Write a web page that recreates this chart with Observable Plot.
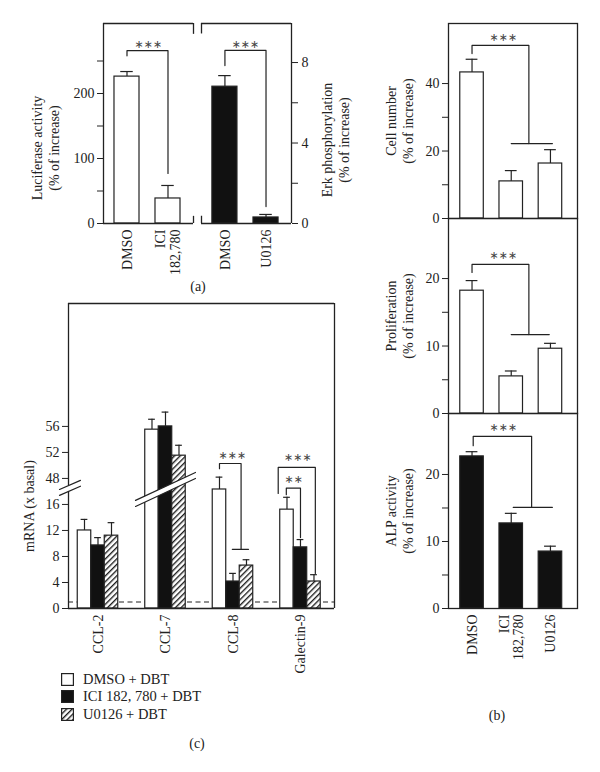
<!DOCTYPE html>
<html><head><meta charset="utf-8">
<script src="https://cdn.jsdelivr.net/npm/d3@7"></script>
<script src="https://cdn.jsdelivr.net/npm/@observablehq/plot@0.6"></script>
<style>
body{margin:0;background:#fff;}
#fig{position:relative;width:600px;height:772px;overflow:hidden;font-family:"Liberation Serif",serif;color:#222;background:#fff;}
.lbl{position:absolute;transform:translate(-50%,-50%) rotate(-90deg);white-space:pre;text-align:center;font-size:14px;line-height:17px;}
.cap{position:absolute;transform:translate(-50%,-50%);font-size:14px;}
.leg{position:absolute;left:61px;font-size:14.5px;display:flex;align-items:center;height:17px;}
.leg svg{margin-right:9px;}
</style></head><body><div id="fig"></div>
<script>
// ---------------- data ----------------
// panel (a)
const aLeftCats = ["DMSO", "ICI 182,780"];
const aLeftVals = [226, 38.5];
const aLeftErr = [7.8, 20];
const aLeftTicks = [0, 50, 100, 150, 200, 250];
const aRightCats = ["DMSO", "U0126"];
const aRightVals = [6.8, 0.3];
const aRightErr = [0.55, 0.15];
const aRightTicks = [0, 2, 4, 6, 8];
// panel (b)
const bCats = ["DMSO", "ICI 182,780", "U0126"];
const cellNumber = [43.3, 11.0, 16.3];
const cellNumberErr = [3.9, 3.2, 4.1];
const prolif = [18.2, 5.5, 9.6];
const prolifErr = [1.5, 0.8, 0.8];
const alp = [22.7, 12.7, 8.5];
const alpErr = [0.7, 1.5, 0.8];
// panel (c)
const genes = ["CCL-2", "CCL-7", "CCL-8", "Galectin-9"];
const treatments = ["DMSO + DBT", "ICI 182, 780 + DBT", "U0126 + DBT"];
const dmsoDBT = [12.0, 55.5, 18.3, 15.2];
const dmsoDBTErr = [1.7, 1.6, 1.9, 1.9];
const iciDBT = [9.7, 56.0, 4.15, 9.4];
const iciDBTErr = [1.2, 2.2, 1.25, 1.2];
const u0126DBT = [11.2, 51.5, 6.6, 4.15];
const u0126DBTErr = [2.0, 1.6, 0.9, 1.05];
const basal = 1;
const cTickValues = [0, 4, 8, 12, 16, 48, 52, 56];
const cBreakLow = 16, cBreakHigh = 48; // axis is broken between these

// significance annotations (data units)
const aLeftBracket = [[0, 258], [0, 266], [1, 266], [1, 77]];
const aRightBracket = [[0, 7.85], [0, 8.6], [1, 8.6], [1, 0.84]];
const b1Bracket = [[0, 48.9], [0, 51.3], [1.45, 51.3], [1.45, 22.2]];
const b1Bar = [[1, 22.2], [2.05, 22.2]];
const b2Bracket = [[0, 20.9], [0, 22.1], [1.45, 22.1], [1.45, 11.7]];
const b2Bar = [[1, 11.7], [1.97, 11.7]];
const b3Bracket = [[0.03, 24.3], [0.03, 25.7], [1.52, 25.7], [1.52, 15.1]];
const b3Bar = [[1.05, 15.1], [2.05, 15.1]];
const c8Bracket = [[1.8, 21.5], [1.8, 22.3], [2.12, 22.3], [2.12, 9.1]];
const c8Bar = [[1.99, 9.1], [2.23, 9.1]];
const g9Bracket3 = [[2.67, 17.7], [2.67, 21.7], [3.22, 21.7], [3.22, 5.4]];
const g9Bracket2 = [[2.79, 17.5], [2.79, 18.5], [3.0, 18.5], [3.0, 10.9]];

// ---------------- helpers ----------------
const ink = "#222";
const serif = "Liberation Serif, serif";
const tickFont = 14;
const fig = document.getElementById("fig");
const baseStyle = {background: "transparent", overflow: "visible", fontFamily: serif, fontSize: "14px", color: ink};
function place(el, left, top) { el.style.position = "absolute"; el.style.left = left + "px"; el.style.top = top + "px"; fig.appendChild(el); }
function rows(vals, errs, xs) { return vals.map((v, i) => ({x: xs ? xs[i] : i, v, e: errs[i]})); }
function pts(a) { return a.map(([x, y]) => ({x, y})); }
function barMarks(data, hw, fill) {
  return [
    Plot.ruleX(data, {x: "x", y1: d => d.v, y2: d => d.v + d.e, stroke: ink, strokeWidth: 1.2}),
    Plot.ruleY(data, {y: d => d.v + d.e, x1: d => d.x - hw * 0.5, x2: d => d.x + hw * 0.5, stroke: ink, strokeWidth: 1.2}),
    Plot.rect(data, {x1: d => d.x - hw, x2: d => d.x + hw, y1: 0, y2: "v", fill, stroke: ink, strokeWidth: 1.2})
  ];
}
function lineMark(a) { return Plot.line(pts(a), {x: "x", y: "y", stroke: ink, strokeWidth: 1.2}); }
function stars(x, y, s) { return Plot.text([{x, y}], {x: "x", y: "y", text: () => s, fontFamily: "DejaVu Sans", fontSize: 11, fill: "#444"}); }
function yAxis(anchor, ticks, fmt, pad) {
  return Plot.axisY({anchor, ticks, tickFormat: fmt, tickSize: 6, tickPadding: pad, label: null, fontSize: tickFont, fontFamily: serif});
}
function xLabels(cats, ticks) {
  return Plot.axisX({ticks, tickFormat: i => cats[i].replace(" ", "\n"), tickRotate: -90, tickSize: 0, tickPadding: 6, label: null, lineHeight: 1.05, fontSize: tickFont, fontFamily: serif});
}

// hatch pattern defs
const defs = d3.create("svg").attr("width", 0).attr("height", 0);
const pat = defs.append("defs").append("pattern").attr("id", "hatch").attr("patternUnits", "userSpaceOnUse")
  .attr("width", 4).attr("height", 4).attr("patternTransform", "rotate(45)");
pat.append("rect").attr("width", 4).attr("height", 4).attr("fill", "white");
pat.append("line").attr("x1", 0.7).attr("y1", 0).attr("x2", 0.7).attr("y2", 4).attr("stroke", "#111").attr("stroke-width", 1.3);
place(defs.node(), 0, 0);

// ---------------- panel (a) left ----------------
{
  const xd = [-0.573, 1.622], yTop = 307.7;
  const data = rows(aLeftVals, aLeftErr);
  const svg = Plot.plot({
    width: 200, height: 290, marginLeft: 103, marginRight: 7, marginTop: 23, marginBottom: 67,
    x: {domain: xd}, y: {domain: [0, yTop]}, style: baseStyle,
    marks: [
      ...barMarks(data, 0.305, "white"),
      lineMark(aLeftBracket), stars(0.52, 275, "∗∗∗"),
      Plot.ruleY([0, yTop], {stroke: ink, strokeWidth: 1.3}),
      Plot.ruleX([xd[0]], {stroke: ink, strokeWidth: 1.3}),
      Plot.ruleX([[0, 11], [291, yTop]], {x: () => xd[1], y1: d => d[0], y2: d => d[1], stroke: ink, strokeWidth: 1.3}),
      yAxis("left", aLeftTicks, d => d % 100 === 0 ? d : "", 3),
      xLabels(aLeftCats, [0, 1])
    ]
  });
  place(svg, 0, 0);
}
// ---------------- panel (a) right ----------------
{
  const xd = [-0.57, 1.62], yTop = 9.94;
  const data = rows(aRightVals, aRightErr);
  const svg = Plot.plot({
    width: 120, height: 290, marginLeft: 6, marginRight: 24, marginTop: 23, marginBottom: 67,
    x: {domain: xd}, y: {domain: [0, yTop]}, style: baseStyle,
    marks: [
      ...barMarks(data, 0.305, "#111"),
      lineMark(aRightBracket), stars(0.5, 8.9, "∗∗∗"),
      Plot.ruleY([0, yTop], {stroke: ink, strokeWidth: 1.3}),
      Plot.ruleX([xd[1]], {stroke: ink, strokeWidth: 1.3}),
      Plot.ruleX([[0, 0.36], [9.42, yTop]], {x: () => xd[0], y1: d => d[0], y2: d => d[1], stroke: ink, strokeWidth: 1.3}),
      yAxis("right", aRightTicks, d => d % 4 === 0 ? d : "", 4),
      xLabels(aRightCats, [0, 1])
    ]
  });
  place(svg, 195, 0);
}

// ---------------- panel (b) ----------------
function bPanel({vals, errs, fill, yTop, ticks, labelEvery, top, height, mt, mb, bracket, bar, starY, showX}) {
  const xd = [-0.6, 2.69];
  const data = rows(vals, errs);
  const marks = [
    ...barMarks(data, 0.3, fill),
    lineMark(bracket), lineMark(bar), stars(0.8, starY, "∗∗∗"),
    Plot.frame({stroke: ink, strokeWidth: 1.3}),
    yAxis("left", ticks, d => d % labelEvery === 0 ? d : "", 3)
  ];
  if (showX) marks.push(xLabels(bCats, [0, 1, 2]));
  const svg = Plot.plot({
    width: 220, height, marginLeft: 68, marginRight: 23, marginTop: mt, marginBottom: mb,
    x: {domain: xd, axis: showX ? undefined : null}, y: {domain: [0, yTop]}, style: baseStyle, marks
  });
  place(svg, 380, top);
}
bPanel({vals: cellNumber, errs: cellNumberErr, fill: "white", yTop: 57.8, ticks: [0, 10, 20, 30, 40], labelEvery: 20,
  top: 0, height: 230, mt: 23, mb: 12, bracket: b1Bracket, bar: b1Bar, starY: 53.6, showX: false});
bPanel({vals: prolif, errs: prolifErr, fill: "white", yTop: 28.9, ticks: [0, 5, 10, 15, 20], labelEvery: 10,
  top: 200, height: 225, mt: 18, mb: 12, bracket: b2Bracket, bar: b2Bar, starY: 23.4, showX: false});
bPanel({vals: alp, errs: alpErr, fill: "#111", yTop: 29.1, ticks: [0, 5, 10, 15, 20], labelEvery: 10,
  top: 400, height: 330, mt: 13, mb: 122, bracket: b3Bracket, bar: b3Bar, starY: 27.0, showX: true});

// ---------------- panel (c) ----------------
{
  const gap = cBreakHigh - cBreakLow - 4;               // 28: compressed span of the broken axis
  const fy = v => v > 30 ? v - gap : v;                 // display position of a value
  const xd = [-0.437, 3.504], yTop = 46.9;
  const series = [[dmsoDBT, dmsoDBTErr, "white"], [iciDBT, iciDBTErr, "#111"], [u0126DBT, u0126DBTErr, "url(#hatch)"]];
  const barM = series.flatMap(([vals, errs, fill], j) => {
    const data = vals.map((v, i) => ({x: i + (j - 1) * 0.2, v: fy(v), e: fy(v + errs[i]) - fy(v)}));
    return barMarks(data, 0.1, fill);
  });
  const ccl7Upper = [[0.556, 16.62], [1.444, 20.92]];
  const ccl7Lower = [[0.556, 15.69], [1.444, 20.0]];
  const axUpper = [[-0.57, 18.3], [-0.26, 19.7]];
  const axLower = [[-0.57, 17.4], [-0.26, 18.8]];
  const svg = Plot.plot({
    width: 345, height: 400, marginLeft: 68, marginRight: 11, marginTop: 13, marginBottom: 82,
    x: {domain: xd}, y: {domain: [0, yTop]}, style: baseStyle,
    marks: [
      Plot.ruleY([fy(basal)], {stroke: ink, strokeWidth: 1.2, strokeDasharray: "5,3.5"}),
      ...barM,
      Plot.line(pts([...ccl7Upper, ...ccl7Lower.slice().reverse()]), {x: "x", y: "y", fill: "white", stroke: "none"}),
      lineMark(ccl7Upper), lineMark(ccl7Lower),
      lineMark(c8Bracket), lineMark(c8Bar), stars(1.99, 23.5, "∗∗∗"),
      lineMark(g9Bracket3), stars(2.96, 23.2, "∗∗∗"),
      lineMark(g9Bracket2), stars(2.9, 19.8, "∗∗"),
      Plot.ruleY([0, yTop], {stroke: ink, strokeWidth: 1.3}),
      Plot.ruleX([xd[1]], {stroke: ink, strokeWidth: 1.3}),
      Plot.ruleX([[0, 18.0], [18.9, yTop]], {x: () => xd[0], y1: d => d[0], y2: d => d[1], stroke: ink, strokeWidth: 1.3}),
      lineMark(axUpper), lineMark(axLower),
      yAxis("left", cTickValues.map(fy), d => d > 18 ? d + gap : d, 3),
      xLabels(genes, [0, 1, 2, 3])
    ]
  });
  place(svg, 0, 290);
}

// ---------------- texts ----------------
function label(text, cx, cy, cls) { const d = document.createElement("div"); d.className = cls; d.textContent = text; d.style.left = cx + "px"; d.style.top = cy + "px"; fig.appendChild(d); }
label("Luciferase activity\n(% of increase)", 46, 148, "lbl");
label("Erk phosphorylation\n(% of increase)", 336, 140, "lbl");
label("Cell number\n(% of increase)", 400, 121, "lbl");
label("Proliferation\n(% of increase)", 400, 316, "lbl");
label("ALP activity\n(% of increase)", 400, 511, "lbl");
label("mRNA (x basal)", 29, 506, "lbl");
label("(a)", 198, 287, "cap");
label("(b)", 497, 716, "cap");
label("(c)", 197, 744, "cap");

// legend
const legFills = ["white", "#111", "url(#hatch)"];
const legTops = [671, 688, 706];
treatments.forEach((t, i) => {
  const row = document.createElement("div");
  row.className = "leg"; row.style.top = legTops[i] + "px";
  row.innerHTML = `<svg width="13" height="13"><rect x="0.6" y="0.6" width="11.8" height="11.8" fill="${legFills[i]}" stroke="${ink}" stroke-width="1.2"/></svg><span>${t}</span>`;
  fig.appendChild(row);
});
</script></body></html>
